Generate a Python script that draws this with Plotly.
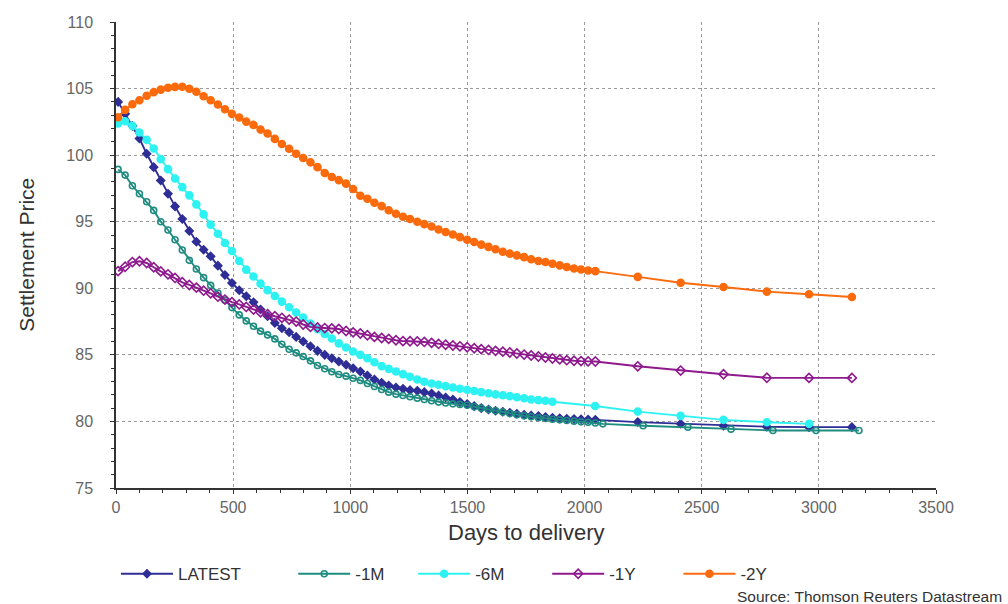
import plotly.graph_objects as go

# Monthly contract grid (days to delivery) shared by the front part of each curve
DAYS = [9, 39, 70, 100, 131, 161, 191, 222, 252, 283,
        313, 343, 374, 404, 435, 465, 495, 526, 556, 587,
        617, 647, 678, 708, 739, 769, 799, 830, 860, 891,
        921, 951, 982, 1012, 1043, 1073, 1103, 1134, 1164, 1195,
        1225, 1255, 1286, 1316, 1347, 1377, 1407, 1438, 1468, 1499,
        1529, 1559, 1590, 1620, 1651, 1681, 1711, 1742, 1772, 1803,
        1833, 1863, 1894, 1924, 1955, 1985, 2015, 2046]

# Semi-annual back-end contracts
TAIL_DAYS = [2227, 2410, 2593, 2778, 2958, 3141]

LATEST_PRICE = [104.0, 103.1, 102.2, 101.25, 100.1, 99.1, 98.1, 97.1, 96.15, 95.2,
                94.3, 93.5, 92.9, 92.4, 91.7, 91.0, 90.4, 89.85, 89.4, 88.95,
                88.4, 87.9, 87.4, 87.0, 86.7, 86.35, 86.0, 85.65, 85.3, 85.0,
                84.75, 84.5, 84.25, 84.0, 83.75, 83.45, 83.15, 82.9, 82.7, 82.55,
                82.45, 82.35, 82.3, 82.2, 82.1, 81.95, 81.8, 81.65, 81.45, 81.3,
                81.15, 81.0, 80.9, 80.8, 80.72, 80.65, 80.57, 80.5, 80.45, 80.4,
                80.33, 80.27, 80.24, 80.2, 80.18, 80.16, 80.15, 80.12]
LATEST_TAIL = [79.95, 79.82, 79.68, 79.6, 79.57, 79.57]

M1_PRICE = [98.93, 98.5, 97.7, 97.1, 96.5, 95.85, 95.0, 94.38, 93.65, 92.88,
            92.1, 91.45, 90.8, 90.22, 89.65, 89.1, 88.55, 88.0, 87.55, 87.15,
            86.78, 86.5, 86.2, 85.8, 85.42, 85.15, 84.88, 84.55, 84.2, 83.96,
            83.73, 83.53, 83.4, 83.24, 83.08, 82.85, 82.62, 82.4, 82.2, 82.05,
            81.95, 81.85, 81.75, 81.65, 81.55, 81.45, 81.38, 81.32, 81.28, 81.22,
            81.1, 81.0, 80.9, 80.8, 80.7, 80.6, 80.5, 80.42, 80.35, 80.28,
            80.22, 80.16, 80.12, 80.07, 80.02, 79.97, 79.93, 79.88]
M1_TAIL_DAYS = [2078, 2250, 2441, 2625, 2804, 2988, 3171]
M1_TAIL = [79.82, 79.68, 79.57, 79.42, 79.32, 79.32, 79.32]

M6_PRICE = [102.38, 102.55, 102.2, 101.7, 101.15, 100.5, 99.7, 98.95, 98.25, 97.6,
            96.98, 96.3, 95.55, 94.78, 94.1, 93.4, 92.8, 92.05, 91.4, 90.88,
            90.35, 89.86, 89.42, 89.0, 88.58, 88.18, 87.8, 87.35, 86.93, 86.57,
            86.23, 85.86, 85.55, 85.25, 85.0, 84.75, 84.45, 84.15, 83.95, 83.75,
            83.55, 83.35, 83.15, 82.98, 82.85, 82.75, 82.65, 82.55, 82.45, 82.38,
            82.28, 82.2, 82.12, 82.03, 81.97, 81.9, 81.82, 81.74, 81.65, 81.6,
            81.55, 81.48]
M6_TAIL_DAYS = [2045, 2227, 2410, 2593, 2778, 2958]
M6_TAIL = [81.16, 80.74, 80.42, 80.12, 79.94, 79.82]

Y1_PRICE = [91.29, 91.62, 91.97, 92.03, 91.9, 91.58, 91.27, 91.05, 90.78, 90.45,
            90.25, 90.05, 89.82, 89.62, 89.37, 89.15, 88.96, 88.79, 88.6, 88.4,
            88.2, 88.05, 87.9, 87.78, 87.65, 87.5, 87.28, 87.1, 87.06, 87.01,
            86.99, 86.94, 86.79, 86.69, 86.6, 86.47, 86.35, 86.27, 86.2, 86.1,
            86.03, 86.02, 86.01, 85.97, 85.9, 85.82, 85.76, 85.7, 85.64, 85.57,
            85.5, 85.43, 85.37, 85.3, 85.24, 85.18, 85.1, 85.02, 84.95, 84.88,
            84.8, 84.73, 84.66, 84.6, 84.56, 84.53, 84.51, 84.5]
Y1_TAIL = [84.14, 83.82, 83.54, 83.28, 83.27, 83.27]

Y2_PRICE = [102.85, 103.4, 103.82, 104.12, 104.46, 104.73, 104.92, 105.06, 105.13, 105.14,
            104.99, 104.76, 104.42, 104.12, 103.8, 103.45, 103.1, 102.83, 102.52, 102.27,
            101.92, 101.62, 101.22, 100.84, 100.48, 100.1, 99.78, 99.46, 99.1, 98.66,
            98.36, 98.12, 97.86, 97.46, 96.95, 96.72, 96.42, 96.17, 95.86, 95.6,
            95.37, 95.2, 95.0, 94.82, 94.64, 94.41, 94.23, 94.04, 93.84, 93.64,
            93.48, 93.28, 93.11, 92.93, 92.74, 92.6, 92.47, 92.34, 92.18, 92.05,
            91.97, 91.84, 91.72, 91.6, 91.49, 91.41, 91.34, 91.29]
Y2_TAIL = [90.86, 90.42, 90.1, 89.75, 89.55, 89.35]

X_TICKS = [0, 500, 1000, 1500, 2000, 2500, 3000, 3500]
Y_TICKS = [75, 80, 85, 90, 95, 100, 105, 110]

FONT = "Liberation Sans, Arial, sans-serif"
PAD = "\u00a0"

# name, x, y, colour, marker symbol, marker size, legend padding (non-breaking spaces)
series = [
    ("LATEST", DAYS + TAIL_DAYS, LATEST_PRICE + LATEST_TAIL, "#2e2e96", "diamond", 6, 10),
    ("-1M", DAYS + M1_TAIL_DAYS, M1_PRICE + M1_TAIL, "#1f8c80", "circle-open", 6, 5),
    ("-6M", DAYS[:len(M6_PRICE)] + M6_TAIL_DAYS, M6_PRICE + M6_TAIL, "#2ef2f2", "circle", 7, 8),
    ("-1Y", DAYS + TAIL_DAYS, Y1_PRICE + Y1_TAIL, "#8e1a8e", "diamond-open", 7, 8),
    ("-2Y", DAYS + TAIL_DAYS, Y2_PRICE + Y2_TAIL, "#fb6a0c", "circle", 7, 8),
]

fig = go.Figure()
for name, x, y, color, symbol, size, pad in series:
    fig.add_trace(go.Scatter(
        x=x, y=y, name=name + PAD * pad, mode="lines+markers",
        line=dict(color=color, width=1.9),
        marker=dict(color=color, symbol=symbol, size=size,
                    line=dict(color=color, width=1.6)),
    ))

fig.update_layout(
    width=1008, height=604,
    margin=dict(l=116, r=72, t=22, b=112),
    paper_bgcolor="white", plot_bgcolor="white",
    font=dict(family=FONT, color="#333333"),
    showlegend=True,
    legend=dict(orientation="h", x=0.0, xanchor="left", y=-0.185, yanchor="middle",
                itemwidth=52,
                font=dict(size=17, color="#333333"), bgcolor="rgba(0,0,0,0)"),
    xaxis=dict(range=[0, 3500], tickvals=X_TICKS, ticktext=[str(v) for v in X_TICKS],
               showgrid=True, gridcolor="#9a9a9a", griddash="dot", gridwidth=1,
               zeroline=False, showline=True, linecolor="#333333", linewidth=1.5,
               ticks="outside", ticklen=4, tickcolor="#333333",
               minor=dict(dtick=100, ticks="outside", ticklen=3, tickcolor="#333333",
                          showgrid=False),
               tickfont=dict(size=16, color="#666666", family=FONT)),
    yaxis=dict(range=[75, 110], tickvals=Y_TICKS, ticktext=[str(v) for v in Y_TICKS],
               showgrid=True, gridcolor="#9a9a9a", griddash="dot", gridwidth=1,
               zeroline=False, showline=True, linecolor="#333333", linewidth=1.5,
               ticks="outside", ticklen=4, tickcolor="#333333",
               minor=dict(dtick=1, ticks="outside", ticklen=3, tickcolor="#333333",
                          showgrid=False),
               ticklabelstandoff=14,
               tickfont=dict(size=16, color="#666666", family=FONT)),
    annotations=[
        dict(text="Days to delivery", xref="paper", yref="paper", x=0.5, y=-0.095,
             xanchor="center", yanchor="middle", showarrow=False,
             font=dict(size=22, color="#333333", family=FONT)),
        dict(text="Settlement Price", xref="paper", yref="paper", x=-0.11, y=0.5,
             xanchor="center", yanchor="middle", showarrow=False, textangle=-90,
             font=dict(size=21, color="#333333", family=FONT)),
        dict(text="Source: Thomson Reuters Datastream", xref="paper", yref="paper",
             x=1.083, y=-0.232, xanchor="right", yanchor="middle", showarrow=False,
             font=dict(size=15.5, color="#333333", family=FONT)),
    ],
)

fig.write_html("out.html")
